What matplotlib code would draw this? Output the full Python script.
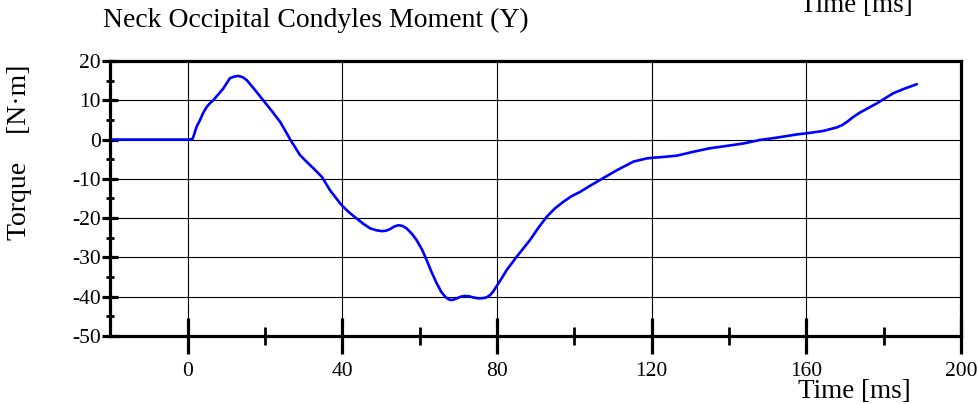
import matplotlib
matplotlib.use("Agg")
import matplotlib.pyplot as plt
from matplotlib.ticker import MultipleLocator, FixedLocator

plt.rcParams['font.family'] = ['Liberation Serif', 'DejaVu Serif']

time_ms = [-19.6, -10, 0, 1.2, 1.6, 2.3, 3.2, 4.0, 4.9, 5.7, 6.6, 7.9, 9.2, 10.9, 11.9,
           13.1, 14.2, 15.3, 17.5, 19.6, 21.8, 23.9, 25.2, 26.5, 27.8, 29.0, 30.8, 32.5,
           34.7, 36.8, 39.8, 41.7, 43.7, 45.5, 47.2, 48.8, 50.2, 51.3, 52.3, 53.5, 54.5,
           55.6, 56.6, 58.0, 59.2, 60.6, 61.8, 63.1, 64.4, 65.6, 66.6, 67.2, 67.8, 68.6,
           69.6, 70.6, 71.7, 72.8, 73.9, 75.0, 76.0, 77.2, 78.2, 79.0, 79.9, 81.2, 82.5,
           85.1, 88.5, 90.8, 92.9, 95.0, 97.2, 99.3, 101.5, 104.0, 106.6, 111.0, 115.3,
           118.7, 120.5, 122.2, 126.5, 130.8, 135.1, 139.5, 143.7, 148.0, 152.4, 157.5,
           160.1, 164.4, 167.9, 169.3, 170.5, 172.2, 173.9, 178.2, 182.5, 185.5, 188.6]
torque = [0.0, 0.0, 0.0, 0.1, 1.1, 3.3, 5.0, 6.8, 8.3, 9.2, 10.0, 11.5, 13.0, 15.6, 16.0,
          16.2, 15.9, 15.1, 12.5, 9.9, 7.2, 4.5, 2.3, 0.05, -2.0, -3.9, -5.7, -7.3,
          -9.5, -12.9, -16.7, -18.5, -20.1, -21.5, -22.6, -23.1, -23.3, -23.2, -22.8, -22.1, -21.8,
          -22.0, -22.6, -24.0, -25.6, -28.0, -30.7, -33.8, -36.6, -38.8, -40.0, -40.5, -40.8, -40.8,
          -40.4, -40.0, -39.8, -39.9, -40.2, -40.4, -40.4, -40.2, -39.6, -38.7, -37.3, -35.3, -33.2,
          -29.8, -25.6, -22.3, -19.6, -17.5, -15.8, -14.4, -13.3, -11.8, -10.3, -7.8, -5.6,
          -4.8, -4.6, -4.5, -4.1, -3.1, -2.2, -1.6, -1.0, -0.1, 0.5, 1.3,
          1.6, 2.2, 3.1, 3.7, 4.5, 5.8, 6.9, 9.2, 11.8, 13.0, 14.1]

x_major = [0, 40, 80, 120, 160, 200]
x_labels = ["0", "40", "80", "120", "160", "200"]
y_major = [-50, -40, -30, -20, -10, 0, 10, 20]
y_labels = ["-50", "-40", "-30", "-20", "-10", "0", "10", "20"]

W, H = 979, 404
fig = plt.figure(figsize=(W / 100, H / 100), dpi=100)
ax = fig.add_axes([110.4 / W, 1 - 336 / H, (961 - 110.4) / W, (336 - 61) / H])

ax.plot(time_ms, torque, color='#0000ff', lw=1.9, solid_joinstyle='round',
        solid_capstyle='round')

ax.set_xlim(-20, 200)
ax.set_ylim(-50, 20)

ax.xaxis.set_major_locator(FixedLocator(x_major))
ax.set_xticklabels(x_labels)
ax.xaxis.set_minor_locator(FixedLocator([20, 60, 100, 140, 180]))
ax.yaxis.set_major_locator(FixedLocator(y_major))
ax.set_yticklabels(y_labels)
ax.yaxis.set_minor_locator(MultipleLocator(5))

ax.grid(True, which='major', color='black', lw=0.8)
for s in ax.spines.values():
    s.set_linewidth(2.3)
    s.set_zorder(5)

ax.tick_params(axis='x', which='major', direction='inout', length=26, width=2.3,
               labelsize=15.5, pad=5.5)
ax.tick_params(axis='x', which='minor', direction='inout', length=13, width=2.0)
ax.tick_params(axis='y', which='major', direction='inout', length=11.5, width=2.3,
               labelsize=15.5, pad=1)
ax.tick_params(axis='y', which='minor', direction='inout', length=5.5, width=2.0)

fig.text(103 / W, 1 - 20 / H, "Neck Occipital Condyles Moment (Y)", fontsize=20,
         ha='left', va='center')
fig.text(856 / W, 1 - 12 / H, "Time [ms]", fontsize=19.5, ha='center', va='baseline')
fig.text(854 / W, 1 - 398 / H, "Time [ms]", fontsize=19.5, ha='center', va='baseline')
fig.text(20 / W, 1 - 152 / H, "Torque    [N\u00b7m]", fontsize=20, ha='center',
         va='center', rotation=90)

fig.savefig("out.png", dpi=100)
